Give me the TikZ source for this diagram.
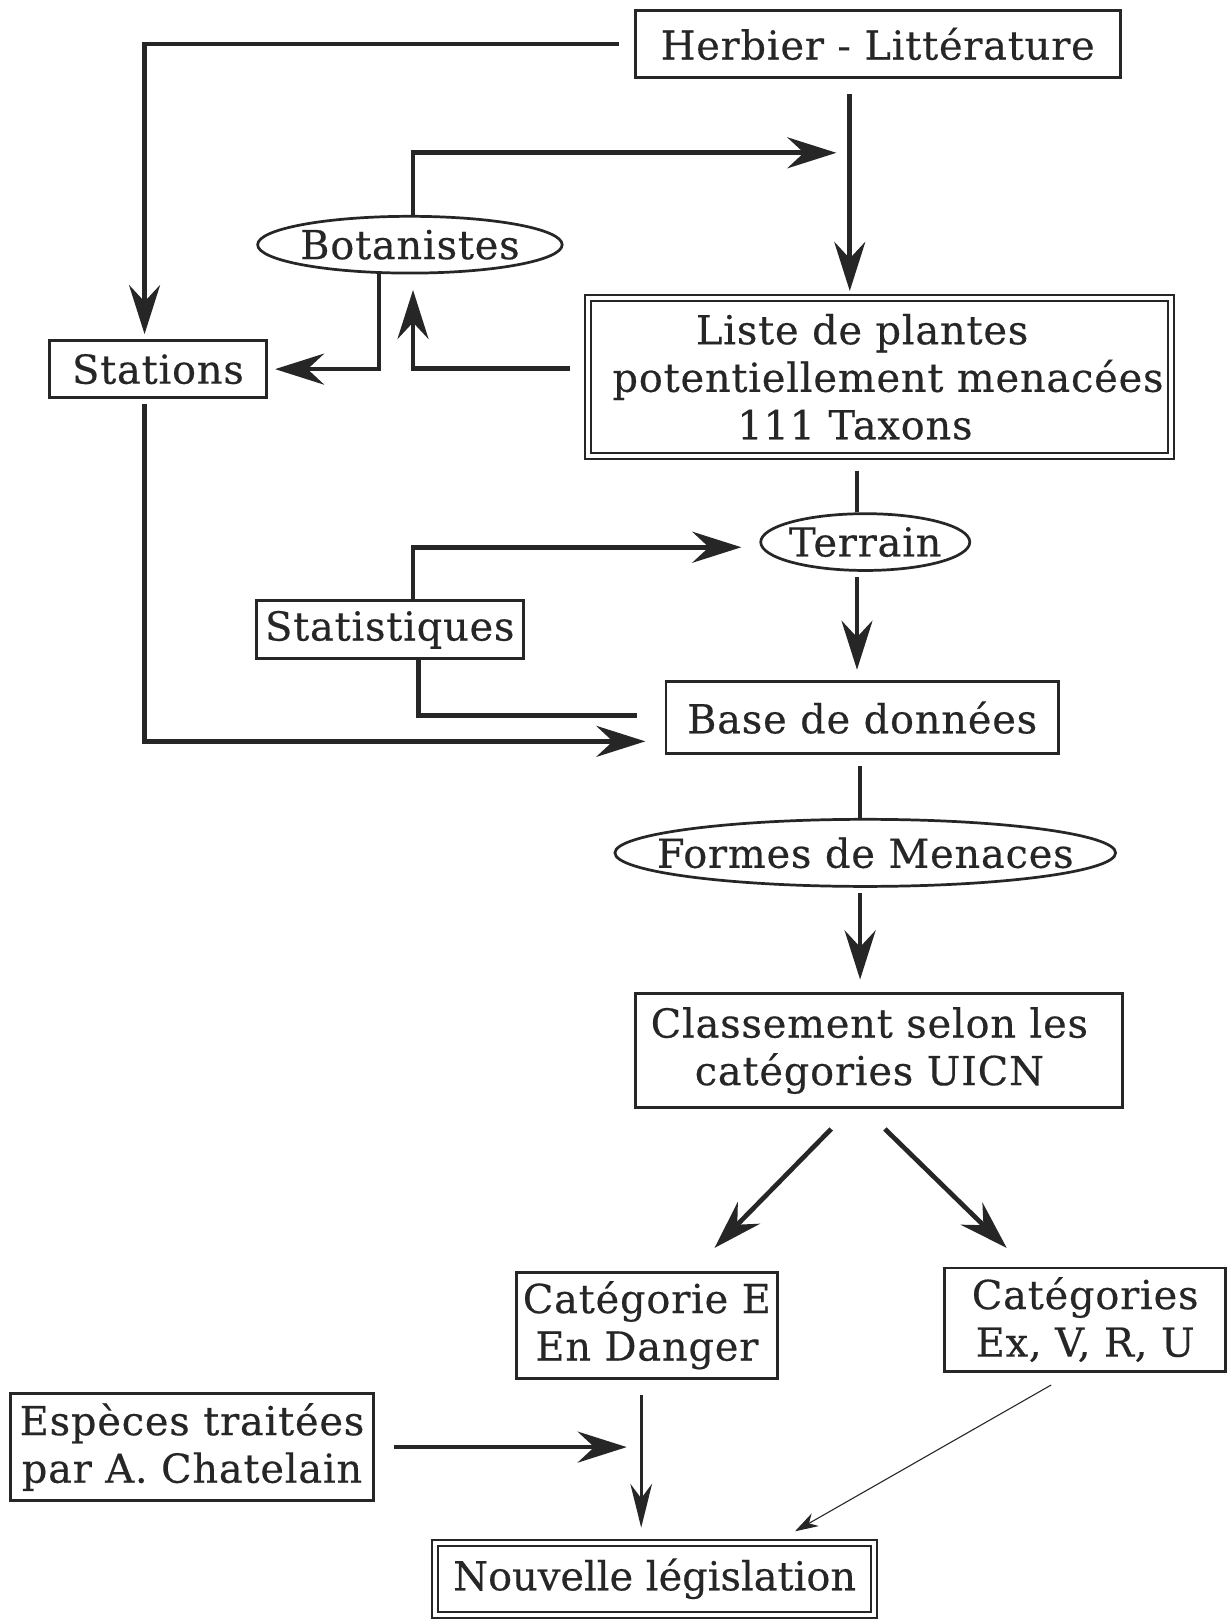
\documentclass[tikz,border=0pt]{standalone}
\usepackage{fontspec}
\setmainfont{DejaVu Serif}[LetterSpace=2, FakeBold=0.4]
\usetikzlibrary{arrows.meta,shapes.geometric}
\definecolor{ink}{HTML}{262626}
\begin{document}
\begin{tikzpicture}[x=0.02cm,y=-0.02cm,
  every node/.style={font=\fontsize{22}{26.2}\selectfont, text=ink, inner sep=0pt, align=center},
  box/.style={draw=ink, line width=1.6pt, rectangle},
  dbox/.style={draw=ink, line width=1.1pt, double, double distance=2.2pt, rectangle},
  ell/.style={draw=ink, line width=1.5pt, ellipse, inner xsep=-1.2cm, inner ysep=-0.2cm},
  line/.style={draw=ink, line width=2.6pt},
  conn/.style={line, -{Stealth[length=0.95cm, width=0.6cm, inset=0.32cm]}},
  medconn/.style={draw=ink, line width=1.6pt, -{Stealth[length=0.85cm, width=0.42cm, inset=0.28cm]}},
  thinconn/.style={draw=ink, line width=0.6pt, -{Stealth[length=0.45cm, width=0.28cm, inset=0.14cm]}}
]
\useasboundingbox[fill=white] (0,0) rectangle (1188,1568);

% column / row helpers
\coordinate (xA) at (140,0);
\coordinate (xB) at (400,0);
\coordinate (xS) at (367,0);
\coordinate (xH) at (823,0);
\coordinate (xT) at (830,0);
\coordinate (xF) at (833,0);
\coordinate (xD) at (405,0);
\coordinate (xE) at (621,0);
\coordinate (yL) at (0,357);
% free ends
\coordinate (botEnd) at (810,148);
\coordinate (statEnd) at (718,530);
\coordinate (statsEnd) at (617,693);
\coordinate (stnEnd) at (625,718);
\coordinate (espEnd) at (607,1401.5);

% nodes
\node[box, minimum width=9.4cm, minimum height=1.3cm] (herb) at (850,42.5) {Herbier - Littérature};
\node[dbox, minimum width=11.3cm, minimum height=3.05cm] (liste) at (852,365)
  {Liste de plantes\rule{0.68cm}{0pt}\\\rule{0.32cm}{0pt}potentiellement menacées\\111 Taxons\rule{0.96cm}{0pt}};
\node[ell, minimum width=5.9cm, minimum height=1.1cm] (bot) at (397,237) {Botanistes};
\node[box, minimum width=4.2cm, minimum height=1.1cm] (stat) at (153,357.5) {Stations};
\node[ell, minimum width=4.05cm, minimum height=1.1cm] (terr) at (838,525) {Terrain};
\node[box, minimum width=5.18cm, minimum height=1.12cm] (stats) at (377.5,610) {Statistiques};
\node[box, minimum width=7.6cm, minimum height=1.4cm] (base) at (835,695) {Base de données};
\node[ell, minimum width=9.7cm, minimum height=1.3cm] (formes) at (838,826) {Formes de Menaces};
\node[box, minimum width=9.44cm, minimum height=2.22cm] (class) at (851,1017.5)
  {Classement selon les\rule{0.36cm}{0pt}\\catégories UICN\rule{0.36cm}{0pt}};
\node[box, minimum width=5.06cm, minimum height=2.06cm] (catE) at (626.5,1283.5)
  {Catégorie E\\En Danger};
\node[box, minimum width=5.44cm, minimum height=2cm] (cats) at (1051,1278)
  {Catégories\\Ex, V, R, U};
\node[box, minimum width=7.04cm, minimum height=2.06cm] (esp) at (186,1401.5)
  {Espèces traitées\\par A. Chatelain};
\node[dbox, minimum width=8.5cm, minimum height=1.4cm] (nouv) at (634,1529)
  {\addfontfeature{LetterSpace=0}Nouvelle législation};

% connectors
\draw[conn, shorten <=0.28cm, shorten >=0.1cm] (herb.west) -| (stat.north -| xA);
\draw[conn, shorten <=0.3cm, shorten >=0.12cm] (herb.south -| xH) -- (liste.north -| xH);
\draw[conn] (bot.north -| xB) |- (botEnd);
\draw[conn, shorten <=0.34cm, shorten >=0.3cm] (liste.west |- yL) -| (bot.south -| xB);
\draw[conn, shorten >=0.14cm] (bot.south -| xS) |- (stat.east);
\draw[conn, shorten <=0.1cm] (stat.south -| xA) |- (stnEnd);
\draw[line, shorten <=0.27cm] (liste.south -| xT) -- (terr.north -| xT);
\draw[conn] (stats.north -| xB) |- (statEnd);
\draw[line] (stats.south -| xD) |- (statsEnd);
\draw[conn, shorten <=0.1cm, shorten >=0.2cm] (terr.south -| xT) -- (base.north -| xT);
\draw[line, shorten <=0.2cm] (base.south -| xF) -- (formes.north -| xF);
\draw[conn, shorten <=0.1cm, shorten >=0.24cm] (formes.south -| xF) -- (class.north -| xF);
\draw[conn] ([xshift=-0.92cm, yshift=-0.38cm]class.south) -- ([xshift=1.31cm, yshift=0.44cm]catE.north);
\draw[conn] ([xshift=0.12cm, yshift=-0.38cm]class.south) -- ([xshift=-1.52cm, yshift=0.36cm]cats.north);
\draw[conn, shorten <=0.36cm] (esp.east) -- (espEnd);
\draw[medconn, shorten <=0.3cm, shorten >=0.27cm] (catE.south -| xE) -- (nouv.north -| xE);
\draw[thinconn] ([xshift=-0.66cm, yshift=-0.24cm]cats.south) -- ([xshift=2.72cm, yshift=0.2cm]nouv.north);
\end{tikzpicture}
\end{document}
